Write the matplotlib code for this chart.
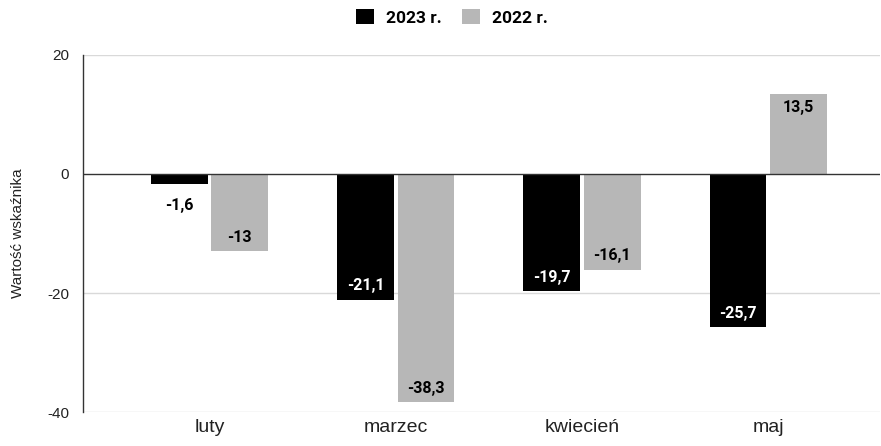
import matplotlib
matplotlib.use('Agg')
import matplotlib.pyplot as plt
import numpy as np

months = ['luty', 'marzec', 'kwiecień', 'maj']
val_2023 = [-1.6, -21.1, -19.7, -25.7]
val_2022 = [-13.0, -38.3, -16.1, 13.5]
series_names = ['2023 r.', '2022 r.']
yticks = [-40, -20, 0, 20]

C_2023 = '#000000'
C_2022 = '#b7b7b7'

def fmt(v):
    s = f'{v:.1f}'.rstrip('0').rstrip('.')
    return s.replace('.', ',')

fig = plt.figure(figsize=(8.81, 4.46), dpi=100)
ax = fig.add_axes([0.0942, 0.0762, 0.9046, 0.8005])

x = np.arange(len(months))
w = 0.305
off = 0.162

b1 = ax.bar(x - off, val_2023, w, color=C_2023, zorder=3, label=series_names[0])
b2 = ax.bar(x + off, val_2022, w, color=C_2022, zorder=3, label=series_names[1])

ax.set_ylim(-40, 20)
ax.set_xlim(-0.68, 3.6)
ax.set_yticks(yticks)
ax.set_yticklabels([str(t) for t in yticks], family='Liberation Sans', fontsize=11, color='#222222')
ax.set_xticks(x)
ax.set_xticklabels(months, family='Liberation Sans', fontsize=14, color='#222222')
ax.tick_params(axis='both', length=0)
ax.tick_params(axis='y', pad=10)
ax.tick_params(axis='x', pad=5)

for t in [-40, -20, 20]:
    ax.axhline(t, color='#d9d9d9', lw=1, zorder=1)
ax.axhline(0, color='#333333', lw=1, zorder=4)

for s in ['top', 'right', 'bottom']:
    ax.spines[s].set_visible(False)
ax.spines['left'].set_color('#333333')
ax.spines['left'].set_linewidth(1)

ax.set_ylabel('Wartość wskaźnika', family='Liberation Sans', fontsize=11, color='#222222', labelpad=16)

# etykiety wartości wewnątrz słupków (lub pod krótkim słupkiem)
def put_labels(bars, vals, inner_color):
    for bar, v in zip(bars, vals):
        cx = bar.get_x() + bar.get_width() / 2
        if abs(v) < 4:
            ax.annotate(fmt(v), (cx, v), xytext=(0, -16), textcoords='offset points',
                        ha='center', va='center', fontsize=11.5, fontweight='bold',
                        family='Roboto', color='#000000', zorder=5)
        else:
            dy = 10 if v < 0 else -10
            ax.annotate(fmt(v), (cx, v), xytext=(0, dy), textcoords='offset points',
                        ha='center', va='center', fontsize=11.5, fontweight='bold',
                        family='Roboto', color=inner_color, zorder=5)

put_labels(b1, val_2023, '#ffffff')
put_labels(b2, val_2022, '#000000')

leg = fig.legend(handles=[b1, b2], loc='upper center', bbox_to_anchor=(0.513, 1.015),
                 ncol=2, frameon=False, handlelength=1.0, handleheight=1.0,
                 handletextpad=0.7, columnspacing=1.2,
                 prop={'family': 'Roboto', 'weight': 'bold', 'size': 12.5})

fig.savefig('out.png', dpi=100)
